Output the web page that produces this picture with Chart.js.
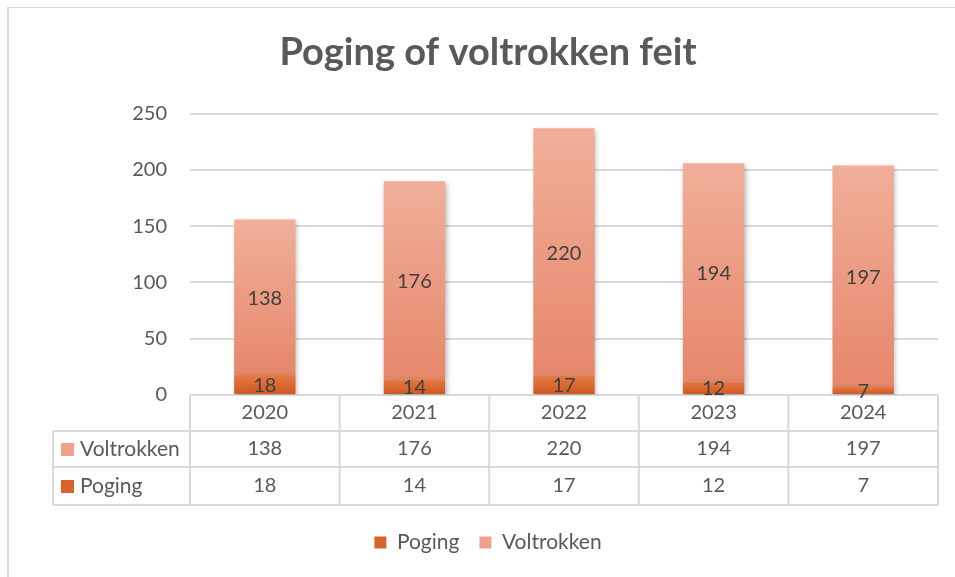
<!DOCTYPE html>
<html>
<head>
<meta charset="utf-8">
<title>Poging of voltrokken feit</title>
<script src="https://cdn.jsdelivr.net/npm/chart.js@4"></script>
<style>
  html, body { margin: 0; padding: 0; background: #fff; }
  #frame { position: absolute; left: 7px; top: 7px; width: 960px; height: 580px;
           border-left: 2px solid #dadada; border-top: 1px solid #dadada; }
  #wrap { position: absolute; left: 0; top: 0; width: 955px; height: 577px; }
</style>
</head>
<body>
<div id="frame"></div>
<div id="wrap"><canvas id="chart"></canvas></div>
<script>
const years = ['2020', '2021', '2022', '2023', '2024'];
const poging = [18, 14, 17, 12, 7];
const voltrokken = [138, 176, 220, 194, 197];
const yTicks = [0, 50, 100, 150, 200, 250];

const FONT = 'Lato, "Noto Sans", sans-serif';
const TEXT = '#595959';
const LINE = '#d9d9d9';
const pogingColor = '#d9622b';
const voltrokkenColor = '#eea08a';

// gradient from the top of a segment to its bottom, like the Office style
function segmentGradient(c, lows, highs, light, dark, fallback) {
    const chart = c.chart;
    const y = chart.scales.y;
    if (!chart.chartArea || !y || c.dataIndex === undefined) return fallback;
    const top = y.getPixelForValue(highs[c.dataIndex]);
    const bottom = y.getPixelForValue(lows[c.dataIndex]);
    const g = chart.ctx.createLinearGradient(0, top, 0, bottom);
    g.addColorStop(0, light);
    g.addColorStop(1, dark);
    return g;
}

const shadowPlugin = {
    id: 'barShadow',
    beforeDatasetDraw(chart) {
        const ctx = chart.ctx;
        ctx.save();
        ctx.shadowColor = 'rgba(0,0,0,0.28)';
        ctx.shadowBlur = 5;
        ctx.shadowOffsetX = 1.5;
        ctx.shadowOffsetY = 1.5;
    },
    afterDatasetDraw(chart) {
        chart.ctx.restore();
    }
};

const labelPlugin = {
    id: 'segmentLabels',
    afterDatasetsDraw(chart) {
        const ctx = chart.ctx;
        ctx.save();
        ctx.font = '20px ' + FONT;
        ctx.fillStyle = '#404040';
        ctx.textAlign = 'center';
        ctx.textBaseline = 'middle';
        chart.data.datasets.forEach((ds, i) => {
            chart.getDatasetMeta(i).data.forEach((bar, j) => {
                ctx.fillText(ds.data[j], bar.x, (bar.y + bar.base) / 2 + 1);
            });
        });
        ctx.restore();
    }
};

const tablePlugin = {
    id: 'dataTable',
    beforeDatasetsDraw(chart) {
        const ctx = chart.ctx;
        const area = chart.chartArea;
        const x = chart.scales.x;
        const b = area.bottom;
        const rows = [b, b + 36, b + 72, b + 110];
        const colW = (area.right - area.left) / years.length;
        const leftX = 53;

        ctx.save();
        ctx.strokeStyle = LINE;
        ctx.lineWidth = 2;
        ctx.beginPath();
        ctx.moveTo(area.left, rows[0]); ctx.lineTo(area.right, rows[0]);
        for (let r = 1; r < rows.length; r++) {
            ctx.moveTo(leftX, rows[r]); ctx.lineTo(area.right, rows[r]);
        }
        for (let k = 0; k <= years.length; k++) {
            const cx = area.left + k * colW;
            ctx.moveTo(cx, rows[0]); ctx.lineTo(cx, rows[3]);
        }
        ctx.moveTo(leftX, rows[1]); ctx.lineTo(leftX, rows[3]);
        ctx.stroke();

        ctx.font = '20px ' + FONT;
        ctx.fillStyle = TEXT;
        ctx.textAlign = 'center';
        ctx.textBaseline = 'middle';
        years.forEach((yr, i) => {
            const cx = x.getPixelForValue(i);
            ctx.fillText(yr, cx, (rows[0] + rows[1]) / 2);
            ctx.fillText(voltrokken[i], cx, (rows[1] + rows[2]) / 2);
            ctx.fillText(poging[i], cx, (rows[2] + rows[3]) / 2);
        });

        const keys = [['Voltrokken', voltrokkenColor, rows[1], rows[2]],
                      ['Poging', pogingColor, rows[2], rows[3]]];
        ctx.textAlign = 'left';
        ctx.font = '21px ' + FONT;
        keys.forEach(([name, color, t, bt]) => {
            const my = (t + bt) / 2;
            ctx.fillStyle = color;
            ctx.fillRect(leftX + 8, my - 6, 13, 13);
            ctx.fillStyle = TEXT;
            ctx.fillText(name, leftX + 27, my);
        });
        ctx.restore();
    }
};

new Chart(document.getElementById('chart'), {
    type: 'bar',
    data: {
        labels: years,
        datasets: [{
            label: 'Poging',
            data: poging,
            backgroundColor: c => segmentGradient(c, poging.map(() => 0), poging,
                '#e47b45', '#cf561d', pogingColor)
        }, {
            label: 'Voltrokken',
            data: voltrokken,
            backgroundColor: c => segmentGradient(c, poging,
                poging.map((p, i) => p + voltrokken[i]),
                '#f1af99', '#e6876b', voltrokkenColor)
        }]
    },
    plugins: [shadowPlugin, tablePlugin, labelPlugin],
    options: {
        responsive: true,
        maintainAspectRatio: false,
        animation: false,
        datasets: {
            bar: { categoryPercentage: 1, barPercentage: 0.41, borderWidth: 0 }
        },
        layout: { padding: { left: 38, right: 17, top: 0, bottom: 14 } },
        plugins: {
            title: {
                display: true,
                text: 'Poging of voltrokken feit',
                color: TEXT,
                font: { family: FONT, size: 38, weight: 'bold', lineHeight: 1.2 },
                padding: { top: 30, bottom: 38 }
            },
            legend: {
                position: 'bottom',
                labels: {
                    color: TEXT,
                    font: { family: FONT, size: 21 },
                    boxWidth: 12,
                    boxHeight: 12,
                    padding: 20,
                    generateLabels: chart => {
                        const items = Chart.defaults.plugins.legend.labels.generateLabels(chart);
                        const cols = [pogingColor, voltrokkenColor];
                        items.forEach((it, i) => {
                            it.fillStyle = cols[i];
                            it.strokeStyle = cols[i];
                            it.lineWidth = 0;
                        });
                        return items;
                    }
                }
            },
            tooltip: { enabled: false }
        },
        scales: {
            x: {
                stacked: true,
                grid: { display: false },
                border: { display: false },
                ticks: { display: false },
                afterFit: s => { s.height = 117; }
            },
            y: {
                stacked: true,
                min: 0,
                max: yTicks[yTicks.length - 1],
                afterBuildTicks: s => { s.ticks = yTicks.map(v => ({ value: v })); },
                grid: { color: LINE, lineWidth: 2, drawTicks: false },
                border: { display: false },
                ticks: { color: TEXT, font: { family: FONT, size: 20 }, padding: 23 },
                afterFit: s => { s.width = 152; }
            }
        }
    }
});
</script>
</body>
</html>
